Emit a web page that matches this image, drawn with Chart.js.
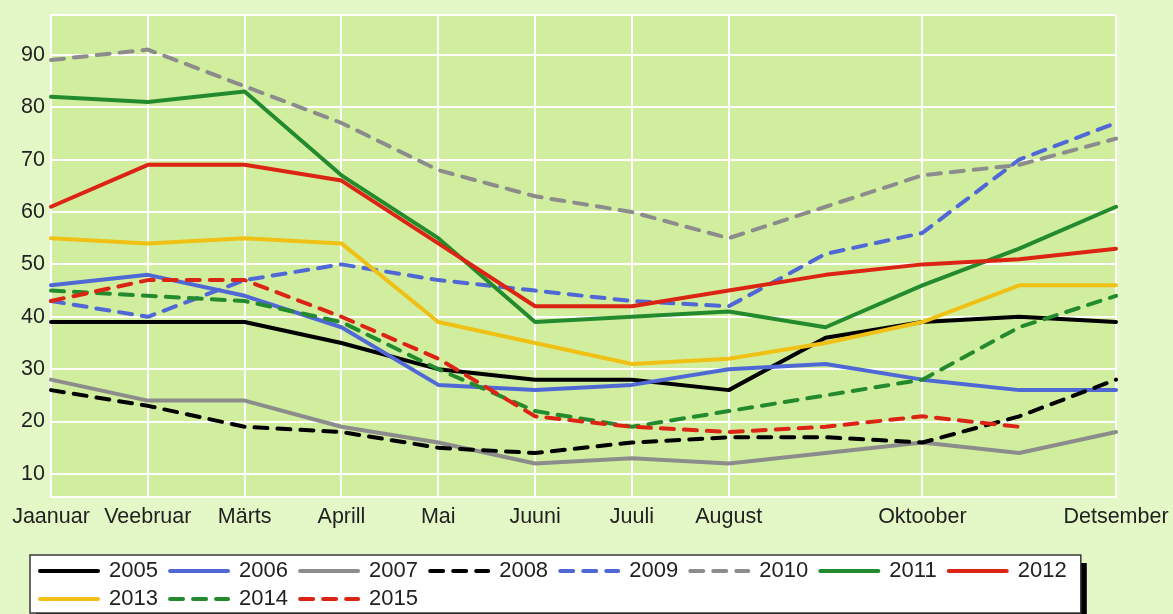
<!DOCTYPE html>
<html>
<head>
<meta charset="utf-8">
<script src="https://cdn.jsdelivr.net/npm/chart.js@4/dist/chart.umd.min.js"></script>
<style>
  html, body { margin: 0; padding: 0; background: #e3f8c6; }
  #wrap { width: 1173px; height: 614px; position: relative; }
</style>
</head>
<body>
<div id="wrap"><canvas id="chart"></canvas></div>
<script>
const months = ['Jaanuar', 'Veebruar', 'Märts', 'Aprill', 'Mai', 'Juuni', 'Juuli', 'August', 'September', 'Oktoober', 'November', 'Detsember'];
// September and November have no label or grid line in the original
const monthTicks = ['Jaanuar', 'Veebruar', 'Märts', 'Aprill', 'Mai', 'Juuni', 'Juuli', 'August', '', 'Oktoober', '', 'Detsember'];
const yTicks = [10, 20, 30, 40, 50, 60, 70, 80, 90];

const years = ['2005', '2006', '2007', '2008', '2009', '2010', '2011', '2012', '2013', '2014', '2015'];
const v2005 = [39, 39, 39, 35, 30, 28, 28, 26, 36, 39, 40, 39];
const v2006 = [46, 48, 44, 38, 27, 26, 27, 30, 31, 28, 26, 26];
const v2007 = [28, 24, 24, 19, 16, 12, 13, 12, 14, 16, 14, 18];
const v2008 = [26, 23, 19, 18, 15, 14, 16, 17, 17, 16, 21, 28];
const v2009 = [43, 40, 47, 50, 47, 45, 43, 42, 52, 56, 70, 77];
const v2010 = [89, 91, 84, 77, 68, 63, 60, 55, 61, 67, 69, 74];
const v2011 = [82, 81, 83, 67, 55, 39, 40, 41, 38, 46, 53, 61];
const v2012 = [61, 69, 69, 66, 54, 42, 42, 45, 48, 50, 51, 53];
const v2013 = [55, 54, 55, 54, 39, 35, 31, 32, 35, 39, 46, 46];
const v2014 = [45, 44, 43, 39, 30, 22, 19, 22, 25, 28, 38, 44];
const v2015 = [43, 47, 47, 40, 32, 21, 19, 18, 19, 21, 19, null];

const seriesValues = [v2005, v2006, v2007, v2008, v2009, v2010, v2011, v2012, v2013, v2014, v2015];
const seriesColors = ['#000000', '#5068d6', '#8c8c8c', '#000000', '#5068d6', '#8c8c8c', '#238b2d', '#dc2414', '#f0c014', '#238b2d', '#dc2414'];
const seriesDashed = [false, false, false, true, true, true, false, false, false, true, true];

const FONT = '"Liberation Sans", Arial, sans-serif';
const PLOT_BG = '#d1ee9f';
const GRID = '#ffffff';
const DASH = [13, 10];
const LEGEND_SHIFT = 34;

const datasets = years.map((year, i) => ({
    label: year,
    data: seriesValues[i],
    borderColor: seriesColors[i],
    backgroundColor: seriesColors[i],
    borderWidth: 4,
    borderDash: seriesDashed[i] ? DASH : [],
    borderCapStyle: 'round',
    borderJoinStyle: 'round',
    pointRadius: 0,
    tension: 0,
    fill: false,
    spanGaps: false,
    order: years.length - i   // later years drawn on top
}));

// plot background, framed legend box with shadow, legend offset
const backdrop = {
    id: 'backdrop',
    afterLayout(chart) {
        chart.legend.left += LEGEND_SHIFT;
        chart.legend.right += LEGEND_SHIFT;
    },
    beforeDraw(chart) {
        const ctx = chart.ctx;
        const a = chart.chartArea;
        ctx.save();
        ctx.fillStyle = PLOT_BG;
        ctx.fillRect(a.left, a.top, a.right - a.left, a.bottom - a.top);

        const boxes = chart.legend && chart.legend.legendHitBoxes;
        if (boxes && boxes.length) {
            const left = Math.min(...boxes.map(b => b.left)) - 10;
            const right = Math.max(...boxes.map(b => b.left + b.width)) + 8;
            const top = Math.min(...boxes.map(b => b.top)) - 5;
            const bottom = Math.max(...boxes.map(b => b.top + b.height)) + 3;
            ctx.fillStyle = '#000';
            ctx.fillRect(left + 6, top + 8, right - left, bottom - top);
            ctx.fillStyle = '#fff';
            ctx.fillRect(left, top, right - left, bottom - top);
            ctx.strokeStyle = '#3a3a3a';
            ctx.lineWidth = 1.5;
            ctx.strokeRect(left, top, right - left, bottom - top);
        }
        ctx.restore();
    },
    beforeDatasetsDraw(chart) {
        // top edge of the plot frame
        const ctx = chart.ctx;
        const a = chart.chartArea;
        ctx.save();
        ctx.strokeStyle = GRID;
        ctx.lineWidth = 2;
        ctx.beginPath();
        ctx.moveTo(a.left, a.top);
        ctx.lineTo(a.right, a.top);
        ctx.stroke();
        ctx.restore();
    }
};

Chart.defaults.font.family = FONT;
Chart.defaults.color = '#222';

new Chart(document.getElementById('chart'), {
    type: 'line',
    data: { labels: months, datasets: datasets },
    options: {
        responsive: true,
        maintainAspectRatio: false,
        animation: false,
        layout: { padding: { top: 15, right: 57, left: 0, bottom: -6 } },
        scales: {
            x: {
                offset: false,
                grid: {
                    color: ctx => monthTicks[ctx.index] ? GRID : 'rgba(0,0,0,0)',
                    lineWidth: 2,
                    drawTicks: false
                },
                border: { color: GRID, width: 2 },
                ticks: {
                    autoSkip: false,
                    maxRotation: 0,
                    padding: 4,
                    font: { size: 21.5, lineHeight: 1.5 },
                    color: '#222',
                    callback: (value, index) => monthTicks[index]
                },
                afterFit: scale => { scale.height = 57; }
            },
            y: {
                min: 5.6,
                max: 97.6,
                afterBuildTicks: scale => { scale.ticks = yTicks.map(v => ({ value: v })); },
                grid: { color: GRID, lineWidth: 2, drawTicks: false },
                border: { color: GRID, width: 2 },
                ticks: {
                    padding: 6,
                    font: { size: 21.5, lineHeight: 0.7 },
                    color: '#222'
                },
                afterFit: scale => { scale.width = 51; }
            }
        },
        plugins: {
            tooltip: { enabled: false },
            legend: {
                position: 'bottom',
                align: 'start',
                labels: {
                    usePointStyle: true,
                    pointStyle: 'line',
                    pointStyleWidth: 58,
                    padding: 6,
                    color: '#222',
                    font: { size: 22 },
                    sort: (a, b) => a.datasetIndex - b.datasetIndex,
                    generateLabels: chart => {
                        const items = Chart.defaults.plugins.legend.labels.generateLabels(chart);
                        items.forEach(item => {
                            const ds = chart.data.datasets[item.datasetIndex];
                            item.lineDash = ds.borderDash;
                            item.lineWidth = ds.borderWidth;
                            item.lineCap = 'round';
                            item.strokeStyle = ds.borderColor;
                            // trailing space widens each entry to the original spacing
                            item.text = item.text + ' ';
                        });
                        return items;
                    }
                }
            }
        }
    },
    plugins: [backdrop]
});
</script>
</body>
</html>
